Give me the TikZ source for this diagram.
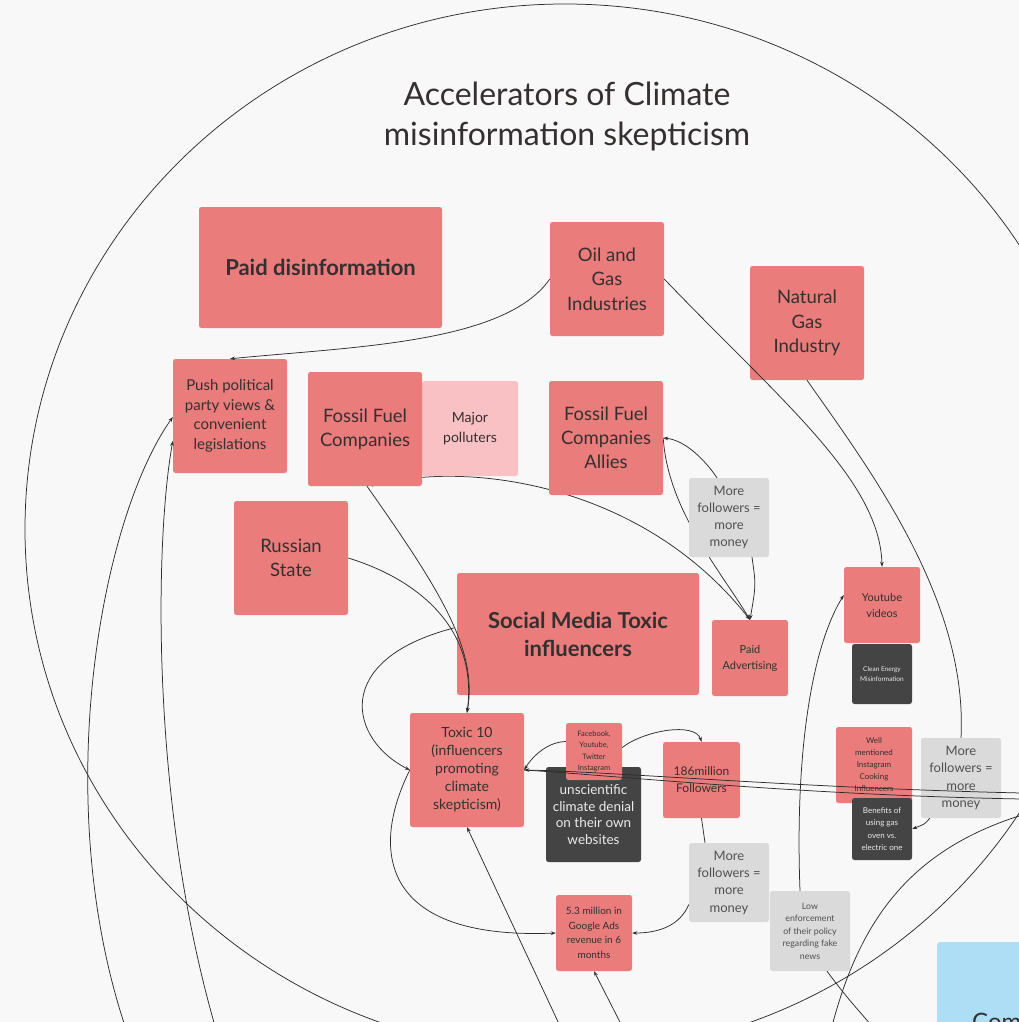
\documentclass[tikz,border=0pt]{standalone}
\usepackage{fontspec}
\setmainfont{Lato}
\usetikzlibrary{arrows.meta,calc}
\pgfdeclarelayer{bg}
\pgfsetlayers{bg,main}
\definecolor{bgc}{RGB}{248,248,248}
\definecolor{pinkc}{RGB}{234,124,124}
\definecolor{lpink}{RGB}{249,193,196}
\definecolor{grayc}{RGB}{218,218,218}
\definecolor{darkc}{RGB}{68,68,68}
\definecolor{bluec}{RGB}{174,222,246}
\definecolor{txt}{RGB}{52,48,48}
\definecolor{linec}{RGB}{45,45,45}
\newcommand\fsz[2]{\fontsize{#1}{#2}\selectfont}
\begin{document}
\begin{tikzpicture}[x=1pt,y=-1pt,
  box/.style={rectangle, rounded corners=2.5pt, align=center, inner sep=1pt, text=txt},
  pinkbox/.style={box, fill=pinkc},
  lpinkbox/.style={box, fill=lpink},
  graybox/.style={box, fill=grayc, text=txt!85},
  darkbox/.style={box, fill=darkc, text=white!92!black},
  conn/.style={draw=linec, line width=0.75pt},
  arr/.style={-{Stealth[length=5pt,width=3.6pt]}}]
\useasboundingbox (0,0) rectangle (1019,1022);
\clip (0,0) rectangle (1019,1022);
\begin{pgfonlayer}{bg}
\fill[bgc] (0,0) rectangle (1019,1022);
\draw[conn] (565,529) ellipse[x radius=540pt, y radius=525pt];
\end{pgfonlayer}

% title
\node[font=\fsz{32}{40}, text=txt, align=center] (title) at (567,116) {Accelerators of Climate\\misinformation skepticism};

% nodes
\node[pinkbox, minimum width=243, minimum height=121, font=\bfseries\fsz{22}{26}] (paid) at (320.5,267.5) {Paid disinformation};
\node[pinkbox, minimum width=114, minimum height=114, font=\fsz{18.5}{24.5}] (oil) at (607,279) {Oil and\\Gas\\Industries};
\node[pinkbox, minimum width=114, minimum height=114, font=\fsz{18.5}{24.5}] (natgas) at (807,323) {Natural\\Gas\\Industry};
\node[pinkbox, minimum width=114, minimum height=114, font=\fsz{15}{19.5}] (push) at (230,416) {Push political\\party views \&\\convenient\\legislations};
\node[lpinkbox, minimum width=96, minimum height=95, font=\fsz{14}{20}] (major) at (470,428.5) {Major\\polluters};
\node[pinkbox, minimum width=114, minimum height=114, font=\fsz{18.5}{24}] (ffc) at (365,429) {Fossil Fuel\\Companies};
\node[pinkbox, minimum width=114, minimum height=114, font=\fsz{18.5}{24}] (allies) at (606,438) {Fossil Fuel\\Companies\\Allies};
\node[pinkbox, minimum width=114, minimum height=114, font=\fsz{18.5}{24}] (russia) at (291,558) {Russian\\State};
\node[graybox, minimum width=80, minimum height=79, font=\fsz{13}{17.3}] (mfmid) at (729,517.5) {More\\followers =\\more\\money};
\node[pinkbox, minimum width=242, minimum height=122, font=\bfseries\fsz{22}{28}] (smti) at (578,634) {Social Media Toxic\\influencers};
\node[pinkbox, minimum width=76, minimum height=76, font=\fsz{11}{16}] (paidad) at (750,658) {Paid\\Advertising};
\node[pinkbox, minimum width=76, minimum height=76, font=\fsz{11}{16}] (yt) at (882,605) {Youtube\\videos};
\node[darkbox, minimum width=60, minimum height=60, font=\fsz{6.5}{9.5}] (clean) at (882,674) {Clean Energy\\Misinformation};
\node[pinkbox, minimum width=114, minimum height=114, font=\fsz{14}{18}] (toxic) at (467,770) {Toxic 10\\(influencers\\promoting\\climate\\skepticism)};
\node[darkbox, minimum width=95, minimum height=95, font=\fsz{13.5}{16.5}] (unsci) at (593.5,814.5) {unscientific\\climate denial\\on their own\\websites};
\node[pinkbox, minimum width=56, minimum height=57, font=\fsz{7.5}{11.5}] (fb) at (594,751.5) {Facebook,\\Youtube,\\Twitter\\Instagram};
\node[pinkbox, minimum width=77, minimum height=76, font=\fsz{12}{17}] (f186) at (701.5,780) {186million\\Followers};
\node[pinkbox, minimum width=76, minimum height=76, font=\fsz{8}{12}] (well) at (874,765) {Well\\mentioned\\Instagram\\Cooking\\Influencers};
\node[darkbox, minimum width=60, minimum height=62, font=\fsz{8}{12.5}] (benefits) at (882,829) {Benefits of\\using gas\\oven vs.\\electric one};
\node[graybox, minimum width=80, minimum height=80, font=\fsz{13}{17.3}] (mfright) at (961,778) {More\\followers =\\more\\money};
\node[graybox, minimum width=80, minimum height=79, font=\fsz{13}{17.3}] (mflow) at (729,882.5) {More\\followers =\\more\\money};
\node[pinkbox, minimum width=76, minimum height=76, font=\fsz{10}{14.5}] (ads) at (594,933) {5.3 million in\\Google Ads\\revenue in 6\\months};
\node[graybox, minimum width=80, minimum height=80, font=\fsz{8.8}{12.5}] (low) at (810,931) {Low\\enforcement\\of their policy\\regarding fake\\news};
\node[box, fill=bluec, minimum width=120, minimum height=120, anchor=north west] (com) at (937,942) {};
\node[font=\fsz{24}{28}, text=txt, anchor=base west, inner sep=0] (comtxt) at (972,1030) {Com};

% connectors behind boxes
\begin{pgfonlayer}{bg}
\draw[conn,arr] (allies.east) .. controls (668,510) and (720,570) .. (paidad.north);
\draw[conn,arr] ($(ffc.south)+(7,0)$) .. controls (460,460) and (640,480) .. (paidad.north);
\end{pgfonlayer}

% connectors
\draw[conn,arr] (oil.west) .. controls +(-45,65) and +(120,-12) .. (push.north);
\draw[conn,arr] (oil.east) .. controls (780,400) and (880,480) .. (yt.north);
\draw[conn] (natgas.south) .. controls (870,470) and (968,600) .. (mfright.north);
\draw[conn,arr] ($(mfmid.north)+(-12,0)$) .. controls (705,460) and (685,440) .. (allies.east);
\draw[conn,arr] ($(mfmid.south)+(23,0)$) .. controls (756,585) .. (paidad.north);
\draw[conn,arr] ($(ffc.south)+(2,0)$) .. controls (440,590) and (478,650) .. (toxic.north);
\draw[conn,arr] (russia.east) .. controls (420,580) and (478,630) .. (toxic.north);
\draw[conn,arr] ($(smti.west)+(-3,-6)$) .. controls (330,660) and (350,740) .. (toxic.west);
\draw[conn,arr] (toxic.west) .. controls (370,850) and (380,940) .. (ads.west);
\coordinate (b1) at (560,1026);
\draw[conn,arr] (b1) -- (toxic.south);
\coordinate (b2) at (622,1026);
\draw[conn,arr] (b2) -- (ads.south);
\draw[conn,arr] ($(fb.west)+(0,-10)$) .. controls (545,742) and (530,760) .. (toxic.east);
\draw[conn,arr] ($(fb.east)+(0,-4)$) .. controls (645,730) and (695,722) .. (f186.north);
\coordinate (r1) at (1022,793);
\coordinate (r2) at (1022,799);
\draw[conn,arr] (r1) .. controls (800,788) and (620,772) .. (toxic.east);
\draw[conn] (r2) .. controls (800,795) and (620,776) .. (toxic.east);
\draw[conn] (f186.south) -- ($(mflow.north)+(-24,0)$);
\draw[conn,arr] ($(mflow.west)+(0,22)$) .. controls (680,925) and (660,933) .. (ads.east);
\draw[conn,arr] ($(low.north)+(-10,0)$) .. controls (795,760) and (810,650) .. ($(yt.west)+(0,-10)$);
\draw[conn,arr] ($(mfright.south west)+(9,0)$) .. controls (925,824) .. (benefits.east);
\coordinate (b3) at (872,1026);
\draw[conn] ($(low.south)+(17,0)$) .. controls (845,995) .. (b3);
\coordinate (r3) at (1022,815);
\coordinate (b4) at (832,1026);
\draw[conn] (r3) .. controls (910,850) and (860,920) .. (b4);
\coordinate (b6) at (125,1026);
\coordinate (b7) at (215,1026);
\draw[conn,arr] (b6) .. controls (50,800) and (100,520) .. ($(push.west)+(0,1)$);
\draw[conn,arr] (b7) .. controls (150,800) and (155,540) .. ($(push.west)+(0,25)$);
\end{tikzpicture}
\end{document}
